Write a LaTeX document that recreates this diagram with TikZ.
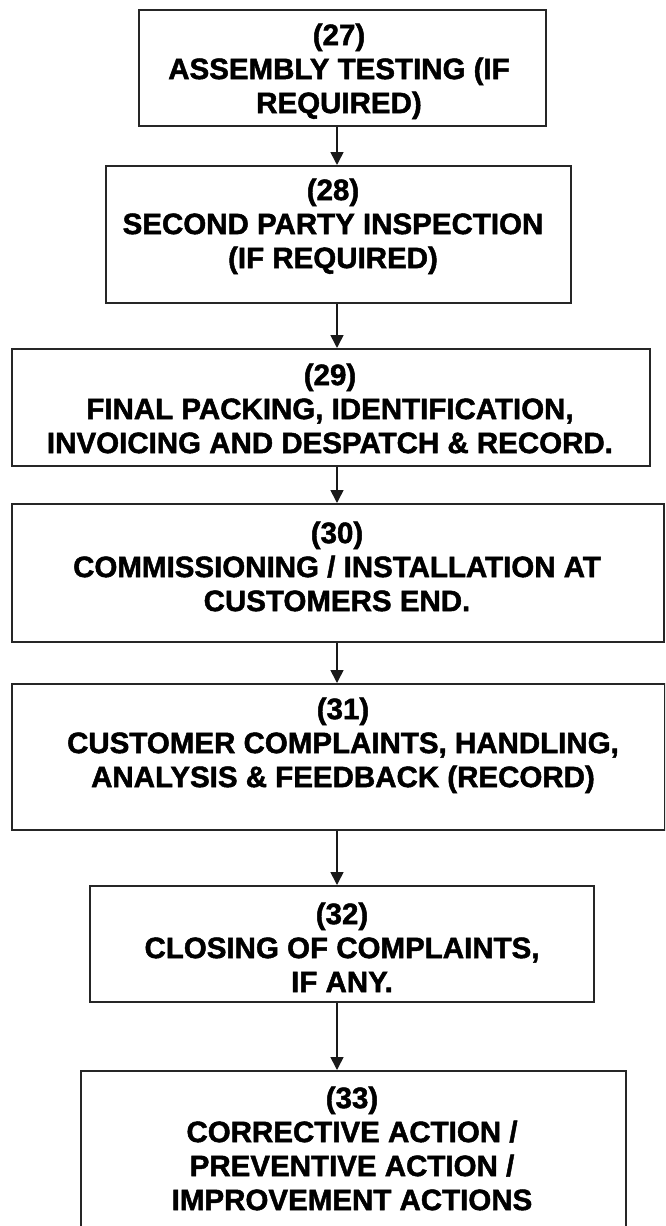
\documentclass[tikz,border=0pt]{standalone}
\usepackage{fontspec}
\setmainfont{Liberation Sans}[FakeBold=1.6]
\usetikzlibrary{arrows.meta}
\tikzset{
  box/.style={draw=black!85, line width=1.8pt, inner sep=0pt, anchor=north west},
  txt/.style={align=center, anchor=north, inner sep=0pt, text=black, font=\fontsize{29.5}{34}\selectfont\bfseries},
  arr/.style={line width=1.6pt, draw=black!90, -{Triangle[length=13pt,width=13pt]}}
}
\begin{document}
\begin{tikzpicture}[x=1pt,y=-1pt]
\useasboundingbox (0,0) rectangle (665,1226);
\clip (0,0) rectangle (665,1226);
\coordinate (ax) at (337,0);
% boxes
\node[box, minimum width=407pt, minimum height=116pt] (b27) at (138,9) {};
\node[box, minimum width=465pt, minimum height=137pt] (b28) at (105,165) {};
\node[box, minimum width=638pt, minimum height=117pt] (b29) at (11,348) {};
\node[box, minimum width=652pt, minimum height=138pt] (b30) at (11,503) {};
\node[box, minimum width=653pt, minimum height=146pt] (b31) at (11,683) {};
\node[box, minimum width=504pt, minimum height=116pt] (b32) at (89,885) {};
\node[box, minimum width=545pt, minimum height=175pt] (b33) at (80,1070) {};
% texts
\node[txt] (t27) at (339,23.5) {(27)\\ASSEMBLY TESTING (IF\\REQUIRED)};
\node[txt] (t28) at (333,178.5) {(28)\\SECOND PARTY INSPECTION\\(IF REQUIRED)};
\node[txt] (t29) at (330,363.5) {(29)\\FINAL PACKING, IDENTIFICATION,\\INVOICING AND DESPATCH \& RECORD.};
\node[txt] (t30) at (337,521.5) {(30)\\COMMISSIONING / INSTALLATION AT\\CUSTOMERS END.};
\node[txt] (t31) at (343,697.5) {(31)\\CUSTOMER COMPLAINTS, HANDLING,\\ANALYSIS \& FEEDBACK (RECORD)};
\node[txt] (t32) at (342,902.5) {(32)\\CLOSING OF COMPLAINTS,\\IF ANY.};
\node[txt] (t33) at (352,1086.5) {(33)\\CORRECTIVE ACTION /\\PREVENTIVE ACTION /\\IMPROVEMENT ACTIONS};
% arrows
\draw[arr] (b27.south -| ax) -- (b28.north -| ax);
\draw[arr] (b28.south -| ax) -- (b29.north -| ax);
\draw[arr] (b29.south -| ax) -- (b30.north -| ax);
\draw[arr] (b30.south -| ax) -- (b31.north -| ax);
\draw[arr] (b31.south -| ax) -- (b32.north -| ax);
\draw[arr] (b32.south -| ax) -- (b33.north -| ax);
\end{tikzpicture}
\end{document}
